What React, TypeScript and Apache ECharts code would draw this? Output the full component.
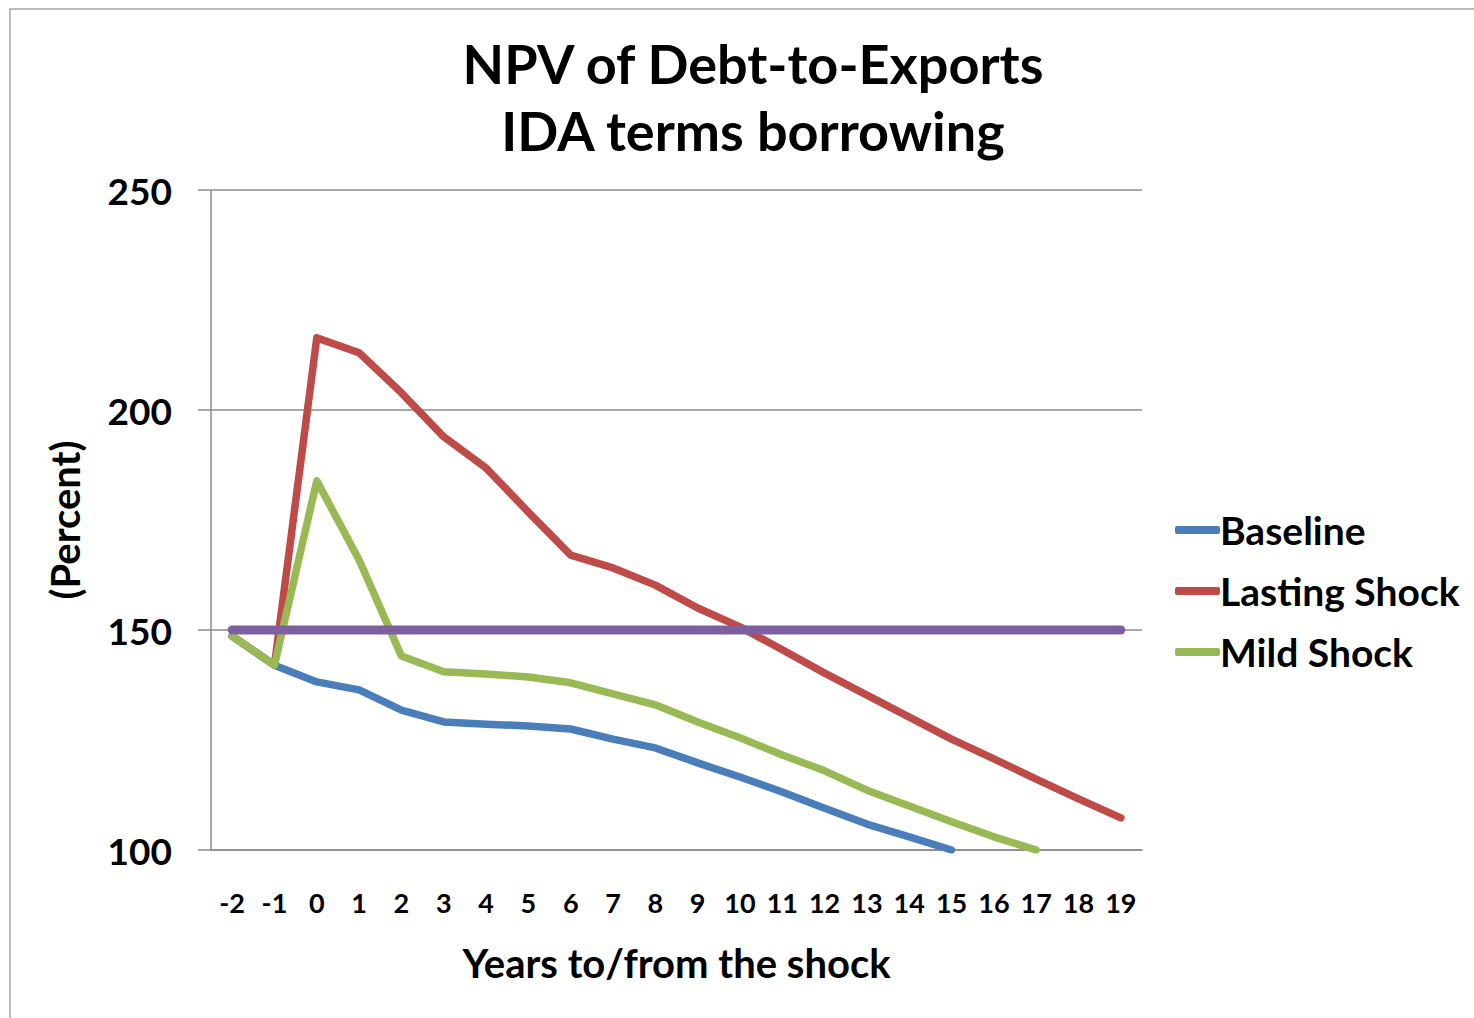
import React, { useEffect, useRef } from "react";
import * as echarts from "echarts";

// Years relative to the shock
const years = ["-2", "-1", "0", "1", "2", "3", "4", "5", "6", "7", "8", "9", "10", "11", "12", "13", "14", "15", "16", "17", "18", "19"];

// NPV of debt-to-exports ratio (percent)
const baseline = [148.6, 142, 138.2, 136.4, 131.8, 129.1, 128.6, 128.2, 127.5, 125.2, 123.2, 119.8, 116.6, 113.2, 109.5, 105.9, 103, 100, null, null, null, null];
const lastingShock = [148.6, 142, 216.4, 213, 203.9, 193.9, 186.8, 176.8, 167, 164.1, 160.2, 155, 150.7, 145.5, 140.2, 135.2, 130.2, 125.2, 120.7, 116.1, 111.6, 107.3];
const mildShock = [148.6, 142, 183.9, 165.9, 144.1, 140.5, 140, 139.3, 138, 135.5, 133, 129.1, 125.5, 121.6, 118, 113.6, 110, 106.4, 103, 100, null, null];
const threshold = [150, 150, 150, 150, 150, 150, 150, 150, 150, 150, 150, 150, 150, 150, 150, 150, 150, 150, 150, 150, 150, 150];

const seriesNames = ["Baseline", "Lasting Shock", "Mild Shock"];
const yTicks = { min: 100, max: 250, interval: 50 };

const FONT = "Lato, 'Open Sans', sans-serif";

export default function App() {
  const ref = useRef<HTMLDivElement>(null);

  useEffect(() => {
    document.body.style.margin = "0";
    const chart = echarts.init(ref.current!, null, { renderer: "svg" });
    const lineStyle = (color: string, width = 7.5) => ({ color, width, cap: "round" as const, join: "round" as const });
    chart.setOption({
      animation: false,
      backgroundColor: "#ffffff",
      textStyle: { fontFamily: FONT },
      graphic: [
        {
          type: "rect",
          shape: { x: 10, y: 9, width: 1600, height: 1200 },
          style: { fill: "none", stroke: "#a6a6a6", lineWidth: 1.5 },
          silent: true,
        },
      ],
      title: {
        text: "NPV of Debt-to-Exports\nIDA terms borrowing",
        left: 748,
        top: 25,
        textAlign: "center",
        textStyle: { fontFamily: FONT, fontSize: 54, fontWeight: "bold", color: "#000", lineHeight: 67 },
      },
      legend: {
        data: seriesNames,
        orient: "vertical",
        left: 1170,
        top: 502,
        itemWidth: 45,
        itemHeight: 8,
        itemGap: 15,
        icon: "roundRect",
        textStyle: { fontFamily: FONT, fontSize: 39, fontWeight: "bold", color: "#000", lineHeight: 46, padding: [0, 0, 0, -5] },
      },
      grid: { left: 211, top: 190, width: 931, height: 660, containLabel: false },
      xAxis: {
        type: "category",
        data: years,
        boundaryGap: true,
        name: "Years to/from the shock",
        nameLocation: "middle",
        nameGap: 93,
        nameTextStyle: { fontFamily: FONT, fontSize: 40, fontWeight: "bold", color: "#000" },
        axisLine: { lineStyle: { color: "#8c8c8c", width: 1.5 } },
        axisTick: { show: false },
        axisLabel: { margin: 39, fontFamily: FONT, fontSize: 27, fontWeight: "bold", color: "#000", interval: 0 },
      },
      yAxis: {
        type: "value",
        min: yTicks.min,
        max: yTicks.max,
        interval: yTicks.interval,
        name: "(Percent)",
        nameLocation: "middle",
        nameRotate: 90,
        nameGap: 126,
        nameTextStyle: { fontFamily: FONT, fontSize: 40, fontWeight: "bold", color: "#000" },
        axisLine: { show: true, lineStyle: { color: "#8c8c8c", width: 1.5 } },
        axisTick: { show: true, length: 13, lineStyle: { color: "#8c8c8c", width: 1.5 } },
        axisLabel: { margin: 39, fontFamily: FONT, fontSize: 37, fontWeight: "bold", color: "#000" },
        splitLine: { show: true, lineStyle: { color: "#8c8c8c", width: 1.5 } },
      },
      series: [
        {
          name: "Baseline",
          type: "line",
          data: baseline,
          showSymbol: false,
          color: "#4a7ebb",
          lineStyle: lineStyle("#4a7ebb"),
          z: 2,
        },
        {
          name: "Lasting Shock",
          type: "line",
          data: lastingShock,
          showSymbol: false,
          color: "#be4b48",
          lineStyle: lineStyle("#be4b48"),
          z: 3,
        },
        {
          name: "Mild Shock",
          type: "line",
          data: mildShock,
          showSymbol: false,
          color: "#98b954",
          lineStyle: lineStyle("#98b954"),
          z: 4,
        },
        {
          name: "Threshold",
          type: "line",
          data: threshold,
          showSymbol: false,
          color: "#7d60a0",
          lineStyle: lineStyle("#7d60a0", 9),
          z: 5,
        },
      ],
    });
    return () => chart.dispose();
  }, []);

  return <div ref={ref} style={{ width: 1474, height: 1018 }} />;
}
